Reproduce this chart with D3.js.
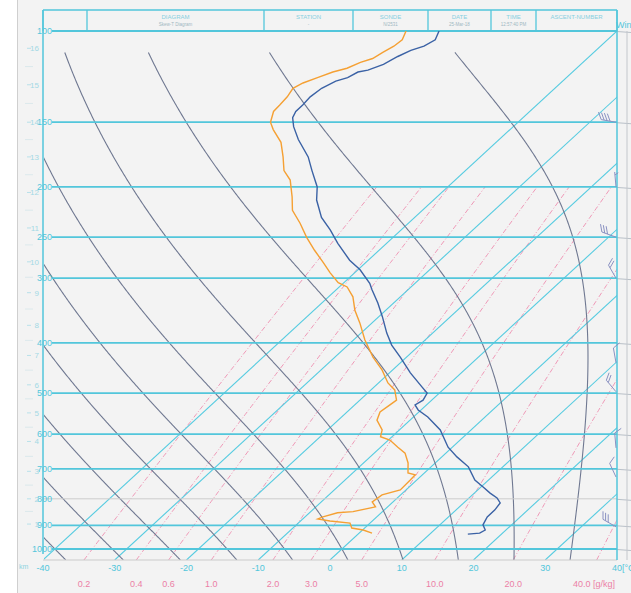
<!DOCTYPE html>
<html>
<head>
<meta charset="utf-8">
<script src="https://cdn.jsdelivr.net/npm/d3@7"></script>
<style>
body { margin: 0; background: #f3f3f3; }
svg { display: block; }
text { font-family: "Liberation Sans Narrow", "Liberation Sans", Arial, sans-serif; }
</style>
</head>
<body>
<div id="chart-area"></div>
<script>
// ---- diagram levels ----
var isobarLevels = [100, 150, 200, 250, 300, 400, 500, 600, 700, 800, 900, 1000]
var isothermValues = [-40, -30, -20, -10, 0, 10, 20, 30, 40]
var mixingRatios = [0.2, 0.4, 0.6, 1.0, 2.0, 3.0, 5.0, 10.0, 20.0, 40.0]
var moistThetaW = [-40, -32, -24, -16, -8, 0, 8, 16, 24, 32]

// height (km) marks on the left side, with the pressure they sit at
var heightKm = [16, 15, 14, 13, 12, 11, 10, 9, 8, 7, 6, 5, 4, 3, 2, 1]
var heightP = [108, 127, 150, 175, 205, 240, 279, 320, 370, 423, 482, 546, 620, 708, 800, 895]

// ---- sounding ----
var soundP = [100,104,107,109,112,116,119,120,123,125,129,134,139,143,147,153,162,175,186,200,
  212,229,242,257,277,289,307,316,335,356,383,404,426,457,487,500,516,527,539,556,
  589,636,664,694,736,759,780,797,815,841,867,898,919,932,936]
var soundT = [-64.8,-64.0,-64.6,-65.8,-66.7,-67.5,-68.8,-69.9,-70.5,-71.6,-72.5,-72.8,-72.6,-72.6,-72.1,-70.6,-68.0,-64.0,-61.4,-58.2,
  -56.3,-53.0,-49.9,-46.8,-42.6,-39.7,-36.3,-35.0,-32.2,-29.5,-26.4,-23.9,-20.9,-17.1,-13.3,-11.7,-11.2,-11.6,-10.4,-8.0,
  -4.3,-0.6,2.1,5.2,8.1,10.3,12.2,13.9,15.1,15.4,15.4,16.0,17.1,16.8,15.3]

var dewP = [100,104,107,110,113,115,118,120,123,126,129,134,139,143,150,155,164,175,186,194,
  209,222,235,250,265,280,293,306,312,326,346,366,395,426,451,478,493,516,527,544,
  564,589,607,616,636,653,682,713,719,736,769,786,811,829,847,851,867,875,883,891,
  911,919,932]
var dewTd = [-69.4,-68.6,-68.8,-69.4,-69.9,-71.0,-72.0,-73.4,-74.7,-75.9,-76.5,-76.0,-75.8,-75.7,-74.5,-73.0,-70.0,-67.5,-65.3,-63.0,
  -60.2,-58.1,-55.1,-52.1,-49.0,-45.9,-43.4,-40.8,-38.9,-36.6,-34.3,-31.7,-28.4,-24.7,-21.5,-18.7,-16.7,-14.9,-15.1,-15.4,
  -14.6,-12.4,-11.6,-9.8,-7.6,-5.7,-3.8,-2.3,-1.0,-0.9,-0.8,-2.6,-2.9,-1.7,-4.1,-6.1,-7.5,-7.9,-5.9,-2.8,
  -1.8,0.1,1.8]

// wind barbs (knots, direction in degrees)
var windP = [150, 200, 250, 300, 437, 497, 638, 726, 906]
var windSpd = [40, 5, 30, 20, 10, 20, 10, 10, 30]
var windDir = [280, 355, 290, 330, 350, 320, 355, 335, 300]

// header
var headerEdges = [43, 87, 264, 353, 428, 491, 536, 617]
var headerTitles = ["", "DIAGRAM", "STATION", "SONDE", "DATE", "TIME", "ASCENT-NUMBER"]
var headerValues = ["", "Skew-T Diagram", "-", "N/2531", "25-Mar-18", "12:57:40 PM", ""]

var width = 631, height = 593
var plotLeft = 43, plotRight = 617, plotTop = 31, plotBottom = 560

var cyan = "#52c6db"

var svg = d3.select("#chart-area").append("svg")
    .attr("width", width)
    .attr("height", height)

svg.append("rect").attr("width", width).attr("height", height).attr("fill", "#f3f3f3")
svg.append("rect").attr("width", 17).attr("height", height).attr("fill", "#ffffff")
svg.append("line").attr("x1", 17.5).attr("x2", 17.5).attr("y1", 0).attr("y2", height)
    .attr("stroke", "#cfcfcf")

var yScale = d3.scaleLog().domain([1050, 100]).range([plotBottom, plotTop])
var tScale = d3.scaleLinear().domain([-40, 40]).range([plotLeft, plotRight])
var skew = (plotRight - plotLeft) / (plotBottom - plotTop)

function px(t, p) { return tScale(t) + (plotBottom - yScale(p)) * skew }

// moist (pseudo) adiabat lapse rate dT/dp
function satMix(tK, p) {
    var tc = tK - 273.15
    var es = 6.112 * Math.exp(17.67 * tc / (tc + 243.5))
    return 0.622 * es / (p - es)
}
function moistRate(tK, p) {
    var rs = satMix(tK, p)
    return (287.04 * tK + 2.501e6 * rs) / (1005.7 + 2.501e6 * 2.501e6 * rs * 0.622 / (287.04 * tK * tK)) / p
}
function integrate(t0, p0, p1) {
    var out = [[p0, t0 - 273.15]], t = t0, p = p0, h = p1 > p0 ? 1 : -1
    while ((h < 0 && p > p1) || (h > 0 && p < p1)) {
        var k1 = moistRate(t, p)
        var k2 = moistRate(t + h / 2 * k1, p + h / 2)
        var k3 = moistRate(t + h / 2 * k2, p + h / 2)
        var k4 = moistRate(t + h * k3, p + h)
        t += h / 6 * (k1 + 2 * k2 + 2 * k3 + k4)
        p += h
        out.push([p, t - 273.15])
    }
    return out
}
function mixDew(w, p) {
    var e = (w / 1000) * p / (0.622 + w / 1000)
    var l = Math.log(e / 6.112)
    return 243.5 * l / (17.67 - l)
}

var line = d3.line()
    .x(function(d) { return px(d[1], d[0]) })
    .y(function(d) { return yScale(d[0]) })

svg.append("clipPath").attr("id", "plot-clip")
    .append("rect").attr("x", plotLeft + 1).attr("y", plotTop)
    .attr("width", plotRight - plotLeft - 1).attr("height", plotBottom - plotTop)

var g = svg.append("g").attr("clip-path", "url(#plot-clip)")

// mixing ratio lines
var mixPs = d3.range(1050, 199, -10)
mixingRatios.forEach(function(w) {
    g.append("path")
        .attr("d", line(mixPs.map(function(p) { return [p, mixDew(w, p)] })))
        .attr("fill", "none")
        .attr("stroke", "#ee8fb0")
        .attr("stroke-width", 0.9)
        .attr("stroke-dasharray", "5,2,1,2")
})

// isotherms
isothermValues.forEach(function(t) {
    g.append("path")
        .attr("d", line([[1050, t], [100, t]]))
        .attr("fill", "none")
        .attr("stroke", "#55cbe0")
        .attr("stroke-width", 1.1)
})

// moist adiabats
moistThetaW.forEach(function(tw) {
    var down = integrate(tw + 273.15, 1000, 1050).reverse()
    var up = integrate(tw + 273.15, 1000, 110)
    g.append("path")
        .attr("d", line(down.concat(up.slice(1))))
        .attr("fill", "none")
        .attr("stroke", "#6f7891")
        .attr("stroke-width", 1.1)
})

// isobars
isobarLevels.forEach(function(p) {
    var thin = p == 800
    svg.append("line")
        .attr("x1", thin ? plotLeft : 52).attr("x2", plotRight)
        .attr("y1", yScale(p)).attr("y2", yScale(p))
        .attr("stroke", thin ? "#cccccc" : cyan)
        .attr("stroke-width", thin ? 1 : 1.8)
    svg.append("line")
        .attr("x1", plotRight).attr("x2", width)
        .attr("y1", yScale(p) + 0.5).attr("y2", yScale(p) + 1.5)
        .attr("stroke", "#a9b3bd")
        .attr("stroke-width", 0.8)
    svg.append("text")
        .attr("x", 52).attr("y", yScale(p) + 3)
        .attr("text-anchor", "end")
        .style("font-size", "9px")
        .style("fill", cyan)
        .text(p)
})

// bottom edge
svg.append("line").attr("x1", plotLeft).attr("x2", plotRight).attr("y1", plotBottom).attr("y2", plotBottom)
    .attr("stroke", "#cbcbcb")

// borders
svg.append("line").attr("x1", plotLeft).attr("x2", plotLeft).attr("y1", 10).attr("y2", plotBottom - 6)
    .attr("stroke", cyan).attr("stroke-width", 1.5)
svg.append("line").attr("x1", plotRight).attr("x2", plotRight).attr("y1", 10).attr("y2", plotBottom)
    .attr("stroke", cyan).attr("stroke-width", 1.5)
svg.append("line").attr("x1", 627).attr("x2", 627).attr("y1", 31).attr("y2", plotBottom)
    .attr("stroke", "#c3c7cc").attr("stroke-width", 1)

// header
svg.append("line").attr("x1", plotLeft).attr("x2", plotRight).attr("y1", 10).attr("y2", 10)
    .attr("stroke", cyan).attr("stroke-width", 1.5)
headerEdges.forEach(function(x) {
    svg.append("line").attr("x1", x).attr("x2", x).attr("y1", 10).attr("y2", plotTop)
        .attr("stroke", cyan).attr("stroke-width", 1.3)
})
headerTitles.forEach(function(t, i) {
    var cx = (headerEdges[i] + headerEdges[i + 1]) / 2
    svg.append("text").attr("x", cx).attr("y", 19)
        .attr("text-anchor", "middle")
        .style("font-size", "6px").style("fill", "#86cfdf")
        .text(t)
    svg.append("text").attr("x", cx).attr("y", 26)
        .attr("text-anchor", "middle")
        .style("font-size", "4.5px").style("fill", "#9fb7c2")
        .text(headerValues[i])
})
svg.append("text").attr("x", 616).attr("y", 28)
    .style("font-size", "9px").style("fill", cyan).text("Wind")

// height axis
heightKm.forEach(function(h, i) {
    var y = yScale(heightP[i])
    svg.append("line").attr("x1", 27).attr("x2", 31).attr("y1", y).attr("y2", y)
        .attr("stroke", "#a9dce7").attr("stroke-width", 0.8)
    svg.append("text").attr("x", 39).attr("y", y + 3)
        .attr("text-anchor", "end")
        .style("font-size", "8px").style("fill", "#a3d9e5")
        .text(h)
})
d3.range(heightP.length - 1).forEach(function(i) {
    var y = (yScale(heightP[i]) + yScale(heightP[i + 1])) / 2
    svg.append("line").attr("x1", 25).attr("x2", 33).attr("y1", y).attr("y2", y)
        .attr("stroke", "#d6e6ea").attr("stroke-width", 0.8)
})
svg.append("text").attr("x", 19).attr("y", 569)
    .style("font-size", "7px").style("fill", "#8fd3e1").text("km")

// temperature labels
isothermValues.forEach(function(t) {
    svg.append("text")
        .attr("x", tScale(t)).attr("y", 571)
        .attr("text-anchor", "middle")
        .style("font-size", "9px").style("fill", cyan)
        .text(t)
})
svg.append("text").attr("x", 622).attr("y", 571)
    .style("font-size", "9px").style("fill", cyan).text("[°C]")

// mixing ratio labels
mixingRatios.forEach(function(w, i) {
    var last = i == mixingRatios.length - 1
    svg.append("text")
        .attr("x", last ? 615 : px(mixDew(w, 1050), 1050))
        .attr("y", 587)
        .attr("text-anchor", last ? "end" : "middle")
        .style("font-size", "9px").style("fill", "#ec7fa6")
        .text(w.toFixed(1) + (last ? " [g/kg]" : ""))
})

// sounding curves
var plot = svg.append("g").attr("clip-path", "url(#plot-clip)")
plot.append("path")
    .attr("d", line(dewP.map(function(p, i) { return [p, dewTd[i]] })))
    .attr("fill", "none").attr("stroke", "#f5a033").attr("stroke-width", 1.4)
plot.append("path")
    .attr("d", line(soundP.map(function(p, i) { return [p, soundT[i]] })))
    .attr("fill", "none").attr("stroke", "#3b62a5").attr("stroke-width", 1.4)

// wind barbs: staff points toward where the wind comes from, barbs on its clockwise side
windP.forEach(function(p, i) {
    var bx = 616, by = yScale(p)
    var a = windDir[i] * Math.PI / 180
    var ux = Math.sin(a), uy = -Math.cos(a)
    var len = 15
    var tx = bx + ux * len, ty = by + uy * len
    var bg = svg.append("g").attr("stroke", "#8a91c2").attr("stroke-width", 1).attr("fill", "none")
    bg.append("line").attr("x1", bx).attr("y1", by).attr("x2", tx).attr("y2", ty)
    var b = a + Math.PI / 3
    var vx = Math.sin(b), vy = -Math.cos(b)
    var spd = windSpd[i], k = 0
    while (spd >= 10) {
        var sx = tx - ux * k * 3, sy = ty - uy * k * 3
        bg.append("line").attr("x1", sx).attr("y1", sy).attr("x2", sx + vx * 8).attr("y2", sy + vy * 8)
        spd -= 10; k++
    }
    if (spd >= 5) {
        var hk = k == 0 ? 1 : k
        var hx = tx - ux * hk * 3, hy = ty - uy * hk * 3
        bg.append("line").attr("x1", hx).attr("y1", hy).attr("x2", hx + vx * 4).attr("y2", hy + vy * 4)
    }
})
</script>
</body>
</html>
